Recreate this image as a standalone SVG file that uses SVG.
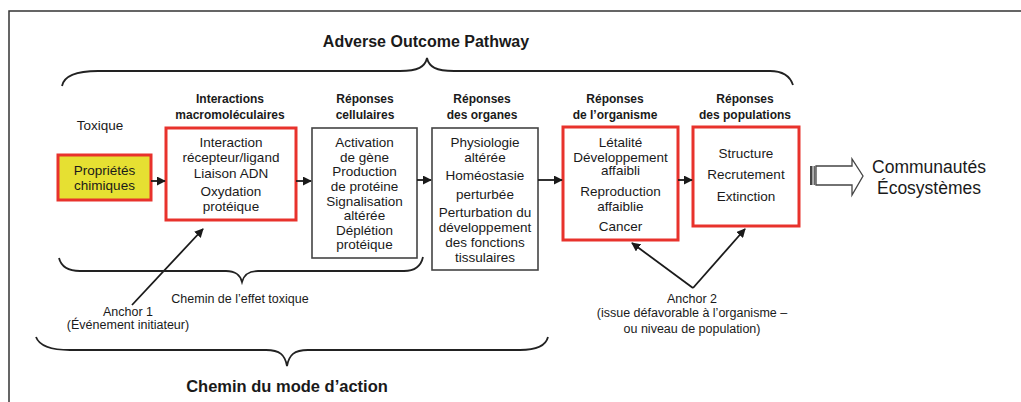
<svg xmlns="http://www.w3.org/2000/svg" width="1021" height="402" viewBox="0 0 1021 402">
<style>
text{font-family:"Liberation Sans",Arial,sans-serif;fill:#1a1a1a;text-anchor:middle}
.t{font-size:13.5px}
.s{font-size:12.5px}
.h{font-size:12px;font-weight:bold}
.big{font-size:16px;font-weight:bold}
.red{fill:#fff;stroke:#e8322c;stroke-width:3}
.blk{fill:#fff;stroke:#444;stroke-width:1.6}
.brace{fill:none;stroke:#222;stroke-width:1.8}
.ln{fill:none;stroke:#1a1a1a;stroke-width:1.8}
</style>
<defs>
<marker id="ah" viewBox="0 0 10 10" refX="9" refY="5" markerWidth="5" markerHeight="5" orient="auto" markerUnits="strokeWidth">
<path d="M0,0 L10,5 L0,10 z" fill="#1a1a1a"/>
</marker>
</defs>
<rect width="1021" height="402" fill="#fff"/>
<path d="M9,402 V11 H1021" fill="none" stroke="#333" stroke-width="1.5"/>

<g id="title">
<text class="big" x="426" y="47">Adverse Outcome Pathway</text>
<path class="brace" d="M62,86 C64,76 76,71 98,71 L400,71 C418,71 425,67 427,58 C429,67 436,71 454,71 L770,71 C783,71 790,76 793,85"/>
</g>

<g id="headers">
<text class="h" x="230" y="103">Interactions</text>
<text class="h" x="230" y="119">macromoléculaires</text>
<text class="h" x="365" y="103">Réponses</text>
<text class="h" x="365" y="119">cellulaires</text>
<text class="h" x="482" y="103">Réponses</text>
<text class="h" x="482" y="119">des organes</text>
<text class="h" x="615" y="103">Réponses</text>
<text class="h" x="615" y="119">de l’organisme</text>
<text class="h" x="745" y="103">Réponses</text>
<text class="h" x="745" y="119">des populations</text>
</g>

<g id="toxique">
<text class="t" x="100" y="130">Toxique</text>
</g>

<g id="proprietes">
<rect x="58" y="155" width="93" height="45" fill="#e6e032" stroke="#e8322c" stroke-width="3"/>
<text class="t" x="104.5" y="174.5">Propriétés</text>
<text class="t" x="104.5" y="189.5">chimiques</text>
</g>

<g id="macro">
<rect class="red" x="166" y="128" width="130" height="92"/>
<text class="t" x="231" y="146.5">Interaction</text>
<text class="t" x="231" y="161.5">récepteur/ligand</text>
<text class="t" x="231" y="177.5">Liaison ADN</text>
<text class="t" x="231" y="195.5">Oxydation</text>
<text class="t" x="231" y="210.5">protéique</text>
</g>

<g id="cellulaires">
<rect class="blk" x="312" y="128" width="105" height="130"/>
<text class="t" x="364.5" y="146.5">Activation</text>
<text class="t" x="364.5" y="161.5">de gène</text>
<text class="t" x="364.5" y="175.5">Production</text>
<text class="t" x="364.5" y="190.5">de protéine</text>
<text class="t" x="364.5" y="205.5">Signalisation</text>
<text class="t" x="364.5" y="219.5">altérée</text>
<text class="t" x="364.5" y="234.5">Déplétion</text>
<text class="t" x="364.5" y="248.5">protéique</text>
</g>

<g id="organes">
<rect class="blk" x="432" y="128" width="106" height="142"/>
<text class="t" x="485" y="146.5">Physiologie</text>
<text class="t" x="485" y="161.5">altérée</text>
<text class="t" x="485" y="179.5">Homéostasie</text>
<text class="t" x="485" y="198.5">perturbée</text>
<text class="t" x="485" y="216.5">Perturbation du</text>
<text class="t" x="485" y="231.5">développement</text>
<text class="t" x="485" y="246.5">des fonctions</text>
<text class="t" x="485" y="261.5">tissulaires</text>
</g>

<g id="organisme">
<rect class="red" x="563" y="127" width="115" height="113"/>
<text class="t" x="620.5" y="146.5">Létalité</text>
<text class="t" x="620.5" y="161.5">Développement</text>
<text class="t" x="620.5" y="174.5">affaibli</text>
<text class="t" x="620.5" y="195.5">Reproduction</text>
<text class="t" x="620.5" y="210.5">affaiblie</text>
<text class="t" x="620.5" y="230.5">Cancer</text>
</g>

<g id="populations">
<rect class="red" x="693" y="127" width="106" height="99"/>
<text class="t" x="746" y="157.5">Structure</text>
<text class="t" x="746" y="178.5">Recrutement</text>
<text class="t" x="746" y="200.5">Extinction</text>
</g>

<g id="communautes">
<path d="M816,166 H852 V159 L863,176 L852,195 V185 H816 Z" fill="#fff" stroke="#444" stroke-width="1.3"/>
<rect x="810" y="166" width="2.5" height="19" fill="#444"/>
<rect x="813.5" y="166" width="2" height="19" fill="#666"/>
<text x="929" y="173" style="font-size:17.5px">Communautés</text>
<text x="929" y="194" style="font-size:17.5px">Écosystèmes</text>
</g>

<g id="connectors">
<line class="ln" x1="151" y1="181" x2="165" y2="181" marker-end="url(#ah)"/>
<line class="ln" x1="296" y1="181" x2="311" y2="181" marker-end="url(#ah)"/>
<line class="ln" x1="417" y1="180" x2="431" y2="180" marker-end="url(#ah)"/>
<line class="ln" x1="538" y1="180" x2="562" y2="180" marker-end="url(#ah)"/>
<line class="ln" x1="678" y1="180" x2="692" y2="180" marker-end="url(#ah)"/>
<line class="ln" x1="132" y1="305" x2="203" y2="229" marker-end="url(#ah)"/>
<line class="ln" x1="693" y1="288" x2="632" y2="243" marker-end="url(#ah)"/>
<line class="ln" x1="693" y1="288" x2="745" y2="229" marker-end="url(#ah)"/>
</g>

<g id="chemin-effet">
<path class="brace" d="M59,258 C61,266 68,271 80,271 L226,271 C236,271 240,275 242,282 C244,275 248,271 258,271 L404,271 C415,271 421,266 423,257"/>
<text class="s" x="240" y="303">Chemin de l’effet toxique</text>
</g>

<g id="anchor1">
<text class="s" x="128" y="316">Anchor 1</text>
<text class="s" x="128" y="329">(Événement initiateur)</text>
</g>

<g id="anchor2">
<text class="s" x="692" y="303">Anchor 2</text>
<text class="s" x="692" y="317">(issue défavorable à l’organisme –</text>
<text class="s" x="692" y="333">ou niveau de population)</text>
</g>

<g id="chemin-mode">
<path class="brace" d="M36,337 C39,345 50,350 70,350 L266,350 C280,350 285,355 287,366 C289,355 294,350 308,350 L520,350 C538,350 546,345 548,337"/>
<text class="big" x="287" y="392" style="font-size:16.5px">Chemin du mode d’action</text>
</g>
</svg>
